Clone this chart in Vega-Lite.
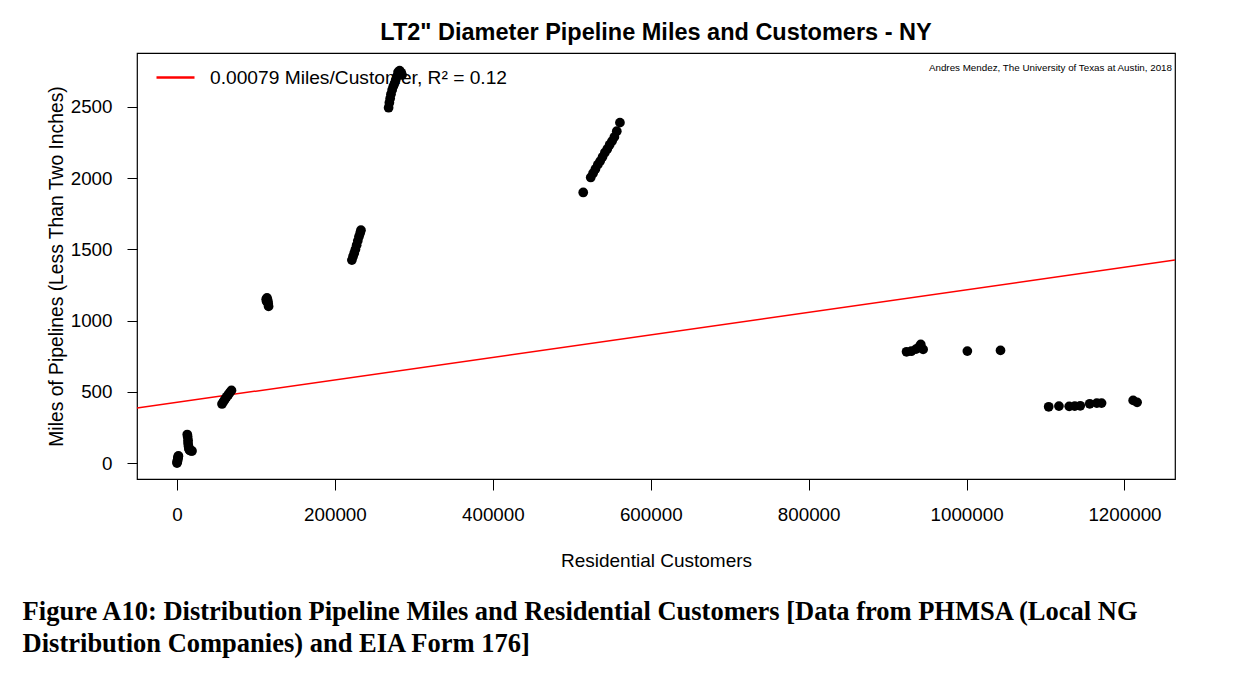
{
  "$schema": "https://vega.github.io/schema/vega-lite/v6.json",
  "background": "white",
  "padding": {"left": 22, "top": 19, "right": 77, "bottom": 10},
  "config": {"font": "Liberation Sans"},
  "title": {
    "text": ["Figure A10: Distribution Pipeline Miles and Residential Customers [Data from PHMSA (Local NG", "Distribution Companies) and EIA Form 176]"],
    "orient": "bottom",
    "anchor": "start",
    "dx": -24,
    "font": "Liberation Serif",
    "fontSize": 26.5,
    "fontWeight": "bold",
    "lineHeight": 32,
    "offset": 28,
    "color": "black"
  },
  "vconcat": [
    {
      "width": 1038,
      "height": 426,
      "view": {"stroke": "black", "strokeWidth": 1.2},
      "title": {
        "text": "LT2\" Diameter Pipeline Miles and Customers - NY",
        "font": "Liberation Sans",
        "fontSize": 23.5,
        "fontWeight": "bold",
        "color": "black",
        "anchor": "middle",
        "offset": 9
      },
      "encoding": {
        "x": {
          "field": "x",
          "type": "quantitative",
          "scale": {"domain": [-50660, 1264000], "nice": false, "zero": false},
          "axis": {
            "values": [0, 200000, 400000, 600000, 800000, 1000000, 1200000],
            "format": "d",
            "grid": false,
            "domain": false,
            "tickColor": "black",
            "tickSize": 11,
            "tickWidth": 1,
            "labelColor": "black",
            "labelFontSize": 18.8,
            "labelPadding": 15,
            "title": "Residential Customers",
            "titleFontSize": 19,
            "titleFontWeight": "normal",
            "titleColor": "black",
            "titlePadding": 28
          }
        },
        "y": {
          "field": "y",
          "type": "quantitative",
          "scale": {"domain": [-112, 2879], "nice": false, "zero": false},
          "axis": {
            "values": [0, 500, 1000, 1500, 2000, 2500],
            "format": "d",
            "grid": false,
            "domain": false,
            "tickColor": "black",
            "tickSize": 10,
            "tickWidth": 1,
            "labelColor": "black",
            "labelFontSize": 18.8,
            "labelPadding": 15,
            "labelAngle": 0,
            "title": "Miles of Pipelines (Less Than Two Inches)",
            "titleFontSize": 19.3,
            "titleFontWeight": "normal",
            "titleColor": "black",
            "titlePadding": 4
          }
        }
      },
      "layer": [
        {
          "data": {"values": [
            {"x": -50660, "y": 386, "series": "0.00079 Miles/Customer, R² = 0.12"},
            {"x": 1264000, "y": 1425, "series": "0.00079 Miles/Customer, R² = 0.12"}
          ]},
          "mark": {"type": "line", "clip": true, "strokeWidth": 1.5},
          "encoding": {
            "color": {
              "field": "series",
              "type": "nominal",
              "scale": {"range": ["#ff0000"]},
              "legend": {
                "title": null,
                "orient": "none",
                "legendX": 18,
                "legendY": 4,
                "padding": 0,
                "symbolType": "stroke",
                "symbolSize": 1444,
                "symbolStrokeWidth": 2.5,
                "labelFontSize": 19.2,
                "labelColor": "black",
                "labelOffset": 14,
                "labelLimit": 600
              }
            }
          }
        },
        {
          "data": {"values": [
            {"x": 0, "y": 0}, {"x": 300, "y": 8}, {"x": 600, "y": 15}, {"x": 900, "y": 25}, {"x": 1200, "y": 35}, {"x": 1600, "y": 45}, {"x": 1800, "y": 50},
            {"x": 13000, "y": 200}, {"x": 13500, "y": 185}, {"x": 14000, "y": 160}, {"x": 14000, "y": 140}, {"x": 14500, "y": 120}, {"x": 15000, "y": 100}, {"x": 16000, "y": 90}, {"x": 18000, "y": 85}, {"x": 19000, "y": 85},
            {"x": 57000, "y": 415}, {"x": 59000, "y": 432}, {"x": 61000, "y": 450}, {"x": 63000, "y": 465}, {"x": 65000, "y": 480}, {"x": 67000, "y": 495}, {"x": 69000, "y": 510},
            {"x": 113000, "y": 1150}, {"x": 114000, "y": 1145}, {"x": 115000, "y": 1140}, {"x": 114500, "y": 1130}, {"x": 115500, "y": 1120}, {"x": 116000, "y": 1100}, {"x": 114000, "y": 1160}, {"x": 113500, "y": 1135},
            {"x": 221500, "y": 1425}, {"x": 223000, "y": 1450}, {"x": 224500, "y": 1475}, {"x": 226000, "y": 1500}, {"x": 227500, "y": 1530}, {"x": 229000, "y": 1560}, {"x": 230500, "y": 1590}, {"x": 232000, "y": 1615}, {"x": 233000, "y": 1635},
            {"x": 268000, "y": 2495}, {"x": 269000, "y": 2530}, {"x": 270000, "y": 2560}, {"x": 271000, "y": 2590}, {"x": 272500, "y": 2620}, {"x": 274000, "y": 2645}, {"x": 275500, "y": 2665}, {"x": 277000, "y": 2690}, {"x": 278500, "y": 2715}, {"x": 280000, "y": 2745}, {"x": 282000, "y": 2755}, {"x": 284000, "y": 2740}, {"x": 285000, "y": 2725},
            {"x": 514500, "y": 1900}, {"x": 524000, "y": 2005}, {"x": 527000, "y": 2035}, {"x": 530000, "y": 2065}, {"x": 533000, "y": 2095}, {"x": 536000, "y": 2120}, {"x": 539000, "y": 2150}, {"x": 542000, "y": 2180}, {"x": 545000, "y": 2205}, {"x": 548000, "y": 2235}, {"x": 551000, "y": 2260}, {"x": 554000, "y": 2290}, {"x": 557000, "y": 2330}, {"x": 561000, "y": 2390},
            {"x": 924000, "y": 781}, {"x": 930000, "y": 785}, {"x": 936000, "y": 800}, {"x": 940000, "y": 815}, {"x": 942000, "y": 833}, {"x": 945000, "y": 798},
            {"x": 1001000, "y": 786}, {"x": 1043000, "y": 791},
            {"x": 1104000, "y": 395}, {"x": 1117000, "y": 400}, {"x": 1130000, "y": 398}, {"x": 1137000, "y": 400}, {"x": 1144000, "y": 402}, {"x": 1156000, "y": 416}, {"x": 1165000, "y": 421}, {"x": 1171000, "y": 421}, {"x": 1211000, "y": 440}, {"x": 1216000, "y": 426}
          ]},
          "mark": {"type": "circle", "size": 95, "color": "black", "opacity": 1}
        },
        {
          "data": {"values": [
            {"x": 1260200, "y": 2774, "note": "Andres Mendez, The University of Texas at Austin, 2018"}
          ]},
          "mark": {"type": "text", "align": "right", "baseline": "middle", "fontSize": 9.8, "color": "black"},
          "encoding": {"text": {"field": "note"}}
        }
      ]
    }
  ]
}
